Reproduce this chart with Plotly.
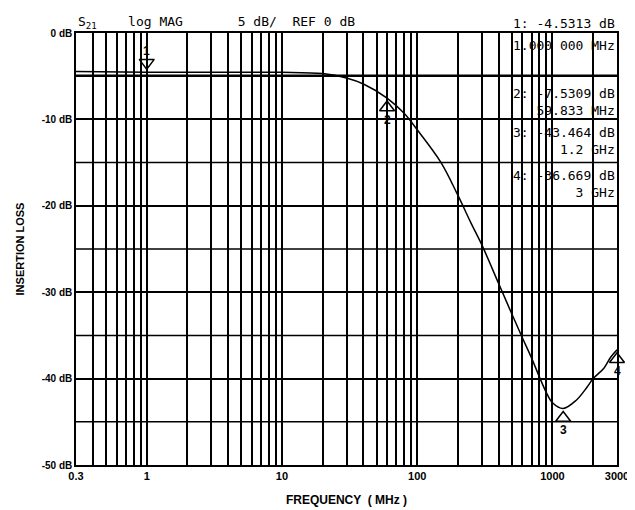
import math
import plotly.graph_objects as go

# S21 insertion loss trace
freq_mhz = [0.3, 1, 5, 10, 20, 30, 40, 59.833, 80, 100, 150, 200, 250, 300, 400, 500,
            600, 700, 800, 900, 1000, 1200, 1500, 1800, 2000, 2400, 2700, 3000]
loss_db = [-4.45, -4.53, -4.53, -4.55, -4.7, -5.2, -5.9, -7.53, -9.3, -11.2, -15.0, -18.8,
           -22.0, -24.5, -29.0, -32.5, -35.3, -37.6, -39.8, -41.6, -42.8, -43.46, -42.5,
           -41.0, -40.0, -38.8, -37.5, -36.67]

ref_line_db = -4.9

marker_freq = [1, 59.833, 1200, 3000]
marker_db = [-4.5313, -7.5309, -43.464, -36.669]
marker_names = ["1", "2", "3", "4"]
marker_labels = [("1: -4.5313 dB", "1.000 000 MHz"), ("2: -7.5309 dB", "59.833 MHz"),
                 ("3: -43.464 dB", "1.2 GHz"), ("4: -36.669 dB", "3 GHz")]

y_ticks = [0, -10, -20, -30, -40, -50]
x_labels = {0.3: "0.3", 1: "1", 10: "10", 100: "100", 1000: "1000", 3000: "3000"}

grid_x = [0.3, 0.4, 0.5, 0.6, 0.7, 0.8, 0.9]
for dec in [1, 10, 100, 1000]:
    grid_x += [m * dec for m in range(1, 10) if m * dec <= 3000]
grid_x.append(3000)

mono = "DejaVu Sans Mono"
sans = "Liberation Sans"
txt = dict(family=mono, size=13, color="black")

fig = go.Figure()
fig.add_trace(go.Scatter(x=[0.3, 3000], y=[ref_line_db] * 2, mode="lines",
                         line=dict(color="black", width=1.5), showlegend=False))
fig.add_trace(go.Scatter(x=freq_mhz, y=loss_db, mode="lines", line_shape="spline",
                         line=dict(color="black", width=1.5), showlegend=False))

# marker triangles: 1 points down from above, others point up from below
for i, (f, d, n) in enumerate(zip(marker_freq, marker_db, marker_names)):
    above = i == 0
    fig.add_trace(go.Scatter(x=[f], y=[d + 1.1 if above else d - 1.1], mode="markers",
                             cliponaxis=False,
                             marker=dict(symbol="triangle-down-open" if above else "triangle-up-open",
                                         size=13, color="black", line=dict(width=1.5)),
                             showlegend=False))
    fig.add_annotation(x=math.log10(f), y=(d + 2.4 if above else d - 2.5), xref="x", yref="y",
                       text=f"<b>{n}</b>", showarrow=False,
                       font=dict(family=sans, size=12, color="black"))

# readout text
fig.add_annotation(x=1, y=1.0, xref="paper", yref="paper", xanchor="right", yanchor="bottom",
                   text=marker_labels[0][0], showarrow=False, font=txt)
fig.add_annotation(x=1, y=-1.5, xref="paper", yref="y", xanchor="right", text=marker_labels[0][1],
                   showarrow=False, font=txt)
for (top, bot), yy in zip(marker_labels[1:], [-8.0, -12.5, -17.5]):
    fig.add_annotation(x=1, y=yy, xref="paper", yref="y", xanchor="right", yanchor="middle",
                       text=top + "<br>" + bot, showarrow=False, align="right", font=txt)

fig.add_annotation(x=0.0, y=1.0, xref="paper", yref="paper", xanchor="left", yanchor="bottom",
                   text="S<sub>21</sub>    log MAG       5 dB/  REF 0 dB", showarrow=False, font=txt)

fig.update_xaxes(type="log", range=[math.log10(0.3), math.log10(3000)], tickvals=grid_x,
                 ticktext=[f"<b>{x_labels[v]}</b>" if v in x_labels else "" for v in grid_x],
                 showgrid=True, gridcolor="black", gridwidth=1.5, ticks="", showline=True,
                 linecolor="black", linewidth=1.5, mirror=True, zeroline=False,
                 tickfont=dict(family=sans, size=11, color="black"),
                 title=dict(text="<b>FREQUENCY  ( MHz )</b>", font=dict(family=sans, size=12, color="black")))
fig.update_yaxes(range=[-50, 0], tickvals=y_ticks, ticktext=[f"<b>{v} dB</b>" for v in y_ticks],
                 showgrid=True, gridcolor="black", gridwidth=1.5, showline=True,
                 linecolor="black", linewidth=1.5, mirror=True, zeroline=False, ticks="",
                 tickfont=dict(family=sans, size=10, color="black"),
                 title=dict(text="<b>INSERTION LOSS</b>", font=dict(family=sans, size=11, color="black")))
for v in range(-45, 0, 10):
    fig.add_shape(type="line", xref="paper", yref="y", x0=0, x1=1, y0=v, y1=v,
                  line=dict(color="black", width=1.5), layer="below")

fig.update_layout(width=635, height=510, margin=dict(l=68, r=26, t=25, b=53),
                  plot_bgcolor="white", paper_bgcolor="white")
fig.write_html("out.html")
